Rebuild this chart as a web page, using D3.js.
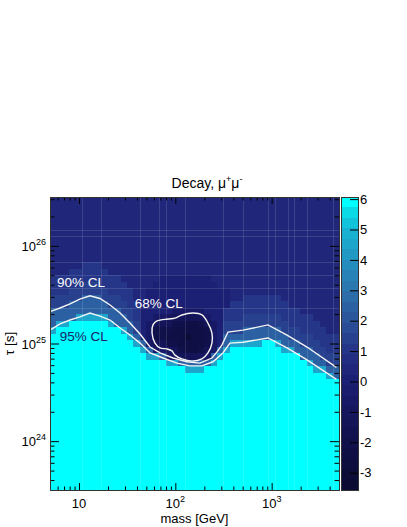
<!DOCTYPE html>
<meta charset="utf-8">
<style>
body { margin: 0; background: #fff; }
svg { display: block; font-family: "Liberation Sans", Arial, sans-serif; }
.tick line { stroke: #000; }
</style>
<body>
<script src="https://cdn.jsdelivr.net/npm/d3@7"></script>
<script>

// plot frame
var margin = {top: 197, left: 50},
    width = 289,
    height = 293;

// axis ranges
var massRange = [5, 5000];
var tauRange = [Math.pow(10, 23.5), Math.pow(10, 26.5)];
var zRange = [-3.57, 6.07];
var binsPerDecade = 15;

// cell values, one row per tau bin (top row = longest lifetime), run-length coded:
// first char = level code, rest = number of mass bins
var levelCodes = "0123456789ABCDEFGHIJ";   // -3.5 ... 6.0 in steps of 0.5
var cellRows = [
  "845", "845", "845", "845", "845", "845", "845", "845", "845", "845",
  "85 93 837",
  "83 96 836",
  "911 86 78 820",
  "95 A3 94 84 710 819",
  "93 A6 94 82 713 817",
  "A5 C3 A3 92 82 713 82 96 89",
  "A3 C6 A3 92 714 99 88",
  "C11 A2 91 75 65 73 912 86",
  "C4 G5 C3 A1 91 72 62 51 45 61 72 93 A6 95 84",
  "C1 G2 J6 G1 C3 A1 71 61 43 32 22 31 41 61 71 A10 95 83",
  "G1 J10 G1 C1 A1 71 61 33 25 31 61 71 A3 C6 A3 94 82",
  "J12 G1 C1 71 61 32 23 11 22 31 61 71 C10 A4 94",
  "J13 G1 C1 61 42 32 24 31 61 71 C1 G5 J2 G1 C3 A3 93",
  "J14 G1 C1 62 51 41 31 22 31 41 61 C1 G1 J8 G2 C3 A2 92",
  "J15 G2 C1 61 51 43 51 61 C1 G1 J12 C3 A3",
  "J18 G2 C5 G1 J14 G1 C2 A2",
  "J21 G3 J17 G2 C2",
  "J43 G1 C1",
  "J45", "J45", "J45", "J45", "J45", "J45", "J45", "J45", "J45",
  "J45", "J45", "J45", "J45", "J45", "J45", "J45", "J45"
];

// bin edges where the original plot shows faint light seams
var seamMassEdges = [5, 8, 14, 17, 18, 21, 27, 30, 34, 35, 37, 38, 40, 44];
var seamTauEdges = [5, 6, 10, 12, 14, 17];

// contour lines
var cl90Mass = [5.0, 6.35, 8.07, 10.2, 13.0, 16.5, 21.0, 26.7, 33.8, 43.0, 54.6, 69.3, 94.6, 132, 180, 240, 271, 305, 352, 504, 916, 1443, 2328, 4700];
var cl90Tau  = [2.12e25, 2.31e25, 2.54e25, 2.85e25, 3.08e25, 2.89e25, 2.48e25, 2.05e25, 1.62e25, 1.25e25, 9.2e24, 8.0e24, 7.1e24, 6.5e24, 6.3e24, 7.1e24, 8.2e24, 9.7e24, 1.31e25, 1.37e25, 1.55e25, 1.22e25, 9.2e24, 5.7e24];
var cl95Mass = [5.0, 6.35, 8.07, 10.2, 13.0, 16.5, 21.0, 26.7, 33.8, 43.0, 54.6, 74.5, 104, 142, 189, 246, 312, 369, 504, 916, 1443, 2328, 4700];
var cl95Tau  = [1.37e25, 1.59e25, 1.74e25, 1.87e25, 2.05e25, 1.91e25, 1.74e25, 1.44e25, 1.22e25, 1.01e25, 8.0e24, 7.1e24, 6.3e24, 5.9e24, 5.9e24, 6.5e24, 8.0e24, 1.01e25, 1.03e25, 1.14e25, 9.0e24, 6.8e24, 4.3e24];
var cl68Mass = [58.6, 64.7, 83.9, 99.2, 117, 153, 189, 218, 240, 240, 218, 189, 149, 117, 99.2, 92.3, 81.9, 69.3, 61.5, 57.3];
var cl68Tau  = [1.55e25, 1.70e25, 1.78e25, 1.82e25, 1.96e25, 2.05e25, 1.96e25, 1.62e25, 1.28e25, 1.01e25, 8.0e24, 6.95e24, 6.6e24, 6.95e24, 7.6e24, 8.4e24, 8.8e24, 9.0e24, 1.01e25, 1.28e25];

// contour labels
var clLabels = ["90% CL", "95% CL", "68% CL"];
var clLabelMass = [5.9, 6.3, 38];
var clLabelTau = [3.8e25, 1.06e25, 2.31e25];
var clLabelColor = ["#fff", "#1b2266", "#fff"];

// ticks
var xMajor = [10, 100, 1000];
var xMajorExp = ["", "2", "3"];
var xMinor = [6, 7, 8, 9, 20, 30, 40, 50, 60, 70, 80, 90, 200, 300, 400, 500, 600, 700, 800, 900, 2000, 3000, 4000];
var yMajor = [1e24, 1e25, 1e26];
var yMajorExp = ["24", "25", "26"];
var yMinor = [4e23, 5e23, 6e23, 7e23, 8e23, 9e23, 2e24, 3e24, 4e24, 5e24, 6e24, 7e24, 8e24, 9e24,
              2e25, 3e25, 4e25, 5e25, 6e25, 7e25, 8e25, 9e25, 2e26, 3e26];
var zTicks = [-3, -2, -1, 0, 1, 2, 3, 4, 5, 6];

// colour palette
var paletteStops  = [-3.57, -3, -2, -1, 0, 1, 2, 3, 4, 5, 5.55, 5.9];
var paletteColors = ["#0a0a30", "#0c0c3a", "#10104b", "#16165f", "#1c1f73", "#253487",
                     "#2b5299", "#2c72ad", "#2492c1", "#16b6d4", "#0adae6", "#00ffff"];
var nLevels = 28;

var palette = d3.scaleLinear().domain(paletteStops).range(paletteColors).clamp(true);
var dz = (zRange[1] - zRange[0]) / nLevels;
function bandColor(v) {
  var i = Math.max(0, Math.min(nLevels - 1, Math.floor((v - zRange[0]) / dz)));
  return palette(zRange[0] + (i + 0.5) * dz);
}

var svg = d3.select("body").append("svg")
    .attr("width", 407)
    .attr("height", 527);

var g = svg.append("g")
    .attr("transform", "translate(" + margin.left + "," + margin.top + ")");

var x = d3.scaleLog().domain(massRange).range([0, width]);
var y = d3.scaleLog().domain(tauRange).range([height, 0]);

// unpack the cells
var lm0 = Math.log10(massRange[0]), lt1 = Math.log10(tauRange[1]);
function massEdge(c) { return Math.pow(10, lm0 + c / binsPerDecade); }
function tauEdge(r) { return Math.pow(10, lt1 - r / binsPerDecade); }

var cells = [];
cellRows.forEach(function(row, r) {
  var c = 0;
  row.split(" ").forEach(function(tok) {
    var v = levelCodes.indexOf(tok[0]) * 0.5 - 3.5;
    var n = +tok.slice(1);
    for (var k = 0; k < n; k++) {
      cells.push({ m0: massEdge(c), m1: massEdge(c + 1), t0: tauEdge(r + 1), t1: tauEdge(r), v: v });
      c++;
    }
  });
});

g.append("g").selectAll("rect")
    .data(cells)
  .enter().append("rect")
    .attr("x", function(d) { return Math.round(x(d.m0)); })
    .attr("y", function(d) { return Math.round(y(d.t1)); })
    .attr("width", function(d) { return Math.round(x(d.m1)) - Math.round(x(d.m0)); })
    .attr("height", function(d) { return Math.round(y(d.t0)) - Math.round(y(d.t1)); })
    .attr("fill", function(d) { return bandColor(d.v); })
    .attr("shape-rendering", "crispEdges");

// faint seams between some bins
var seams = g.append("g")
    .attr("stroke", "#fff")
    .attr("stroke-opacity", 0.12)
    .attr("shape-rendering", "crispEdges");
seams.selectAll(".vs")
    .data(seamMassEdges)
  .enter().append("line")
    .attr("x1", function(d) { return Math.round(x(massEdge(d))) + 0.5; })
    .attr("x2", function(d) { return Math.round(x(massEdge(d))) + 0.5; })
    .attr("y1", 0)
    .attr("y2", height);
seams.selectAll(".hs")
    .data(seamTauEdges)
  .enter().append("line")
    .attr("y1", function(d) { return Math.round(y(tauEdge(d))) + 0.5; })
    .attr("y2", function(d) { return Math.round(y(tauEdge(d))) + 0.5; })
    .attr("x1", 0)
    .attr("x2", width);

// contours
var line = d3.line()
    .x(function(d) { return x(d[0]); })
    .y(function(d) { return y(d[1]); });

[[cl90Mass, cl90Tau], [cl95Mass, cl95Tau]].forEach(function(cl) {
  g.append("path")
      .datum(d3.zip(cl[0], cl[1]))
      .attr("d", line)
      .attr("fill", "none")
      .attr("stroke", "#f4f4f4")
      .attr("stroke-width", 1.4);
});

g.append("path")
    .datum(d3.zip(cl68Mass, cl68Tau))
    .attr("d", d3.line()
        .x(function(d) { return x(d[0]); })
        .y(function(d) { return y(d[1]); })
        .curve(d3.curveCatmullRomClosed.alpha(0.5)))
    .attr("fill", "none")
    .attr("stroke", "#f4f4f4")
    .attr("stroke-width", 1.4);

g.selectAll(".cllabel")
    .data(clLabels)
  .enter().append("text")
    .attr("class", "cllabel")
    .attr("x", function(d, i) { return x(clLabelMass[i]); })
    .attr("y", function(d, i) { return y(clLabelTau[i]); })
    .attr("fill", function(d, i) { return clLabelColor[i]; })
    .style("font-size", "13.5px")
    .text(function(d) { return d; });

// ticks on all four sides
function ticks(axis, values, size) {
  return axis.tickValues(values).tickSize(size).tickFormat("");
}
var axBottom = g.append("g").attr("transform", "translate(0," + height + ")");
axBottom.append("g").call(ticks(d3.axisBottom(x), xMinor, -3.5));
axBottom.append("g").call(ticks(d3.axisBottom(x), xMajor, -7));
var axTop = g.append("g");
axTop.append("g").call(ticks(d3.axisTop(x), xMinor, -3.5));
axTop.append("g").call(ticks(d3.axisTop(x), xMajor, -7));
var axLeft = g.append("g");
axLeft.append("g").call(ticks(d3.axisLeft(y), yMinor, -4.5));
axLeft.append("g").call(ticks(d3.axisLeft(y), yMajor, -9));
var axRight = g.append("g").attr("transform", "translate(" + width + ",0)");
axRight.append("g").call(ticks(d3.axisRight(y), yMinor, -4.5));
axRight.append("g").call(ticks(d3.axisRight(y), yMajor, -9));
g.selectAll(".domain").remove();

g.append("rect")
    .attr("width", width)
    .attr("height", height)
    .attr("fill", "none")
    .attr("stroke", "#333")
    .attr("shape-rendering", "crispEdges");

// tick labels
var xl = g.selectAll(".xlab")
    .data(xMajor)
  .enter().append("text")
    .attr("class", "xlab")
    .attr("x", function(d) { return x(d); })
    .attr("y", height + 18)
    .attr("text-anchor", "middle")
    .style("font-size", "13px");
xl.append("tspan").text("10");
xl.append("tspan")
    .attr("dy", -6)
    .style("font-size", "9px")
    .text(function(d, i) { return xMajorExp[i]; });

var yl = g.selectAll(".ylab")
    .data(yMajor)
  .enter().append("text")
    .attr("class", "ylab")
    .attr("x", -4)
    .attr("y", function(d) { return y(d) + 5; })
    .attr("text-anchor", "end")
    .style("font-size", "13px");
yl.append("tspan").text("10");
yl.append("tspan")
    .attr("dy", -6)
    .style("font-size", "9px")
    .text(function(d, i) { return yMajorExp[i]; });

// axis titles
g.append("text")
    .attr("x", width / 2)
    .attr("y", height + 33)
    .attr("text-anchor", "middle")
    .style("font-size", "13px")
    .text("mass [GeV]");

g.append("text")
    .attr("transform", "translate(-36," + (height / 2) + ") rotate(-90)")
    .attr("text-anchor", "middle")
    .style("font-size", "13.5px")
    .text("τ [s]");

// title
var title = svg.append("text")
    .attr("x", 207)
    .attr("y", 188)
    .attr("text-anchor", "middle")
    .style("font-size", "14px");
title.append("tspan").text("Decay, μ");
title.append("tspan").attr("dy", -6).style("font-size", "9px").text("+");
title.append("tspan").attr("dy", 6).text("μ");
title.append("tspan").attr("dy", -6).style("font-size", "9px").text("-");

// colour bar
var zScale = d3.scaleLinear().domain(zRange).range([height, 0]);
var bar = svg.append("g")
    .attr("transform", "translate(341," + margin.top + ")");
var bands = d3.range(nLevels).map(function(i) { return zRange[0] + i * dz; });
bar.selectAll("rect")
    .data(bands)
  .enter().append("rect")
    .attr("x", 0)
    .attr("width", 17)
    .attr("y", function(d) { return Math.round(zScale(d + dz)); })
    .attr("height", function(d) { return Math.round(zScale(d)) - Math.round(zScale(d + dz)); })
    .attr("fill", function(d) { return palette(d + dz / 2); })
    .attr("shape-rendering", "crispEdges");
bar.append("rect")
    .attr("width", 17)
    .attr("height", height)
    .attr("fill", "none")
    .attr("stroke", "#333")
    .attr("shape-rendering", "crispEdges");
var zAxis = bar.append("g")
    .attr("transform", "translate(17,0)")
    .call(d3.axisRight(zScale)
        .tickValues(zTicks)
        .tickSize(-8)
        .tickPadding(2)
        .tickFormat(function(d) { return String(d); }));
zAxis.select(".domain").remove();
zAxis.selectAll("text")
    .style("font-size", "13px")
    .style("font-family", "'Liberation Sans', Arial, sans-serif")
    .attr("fill", "#000");

</script>
</body>
